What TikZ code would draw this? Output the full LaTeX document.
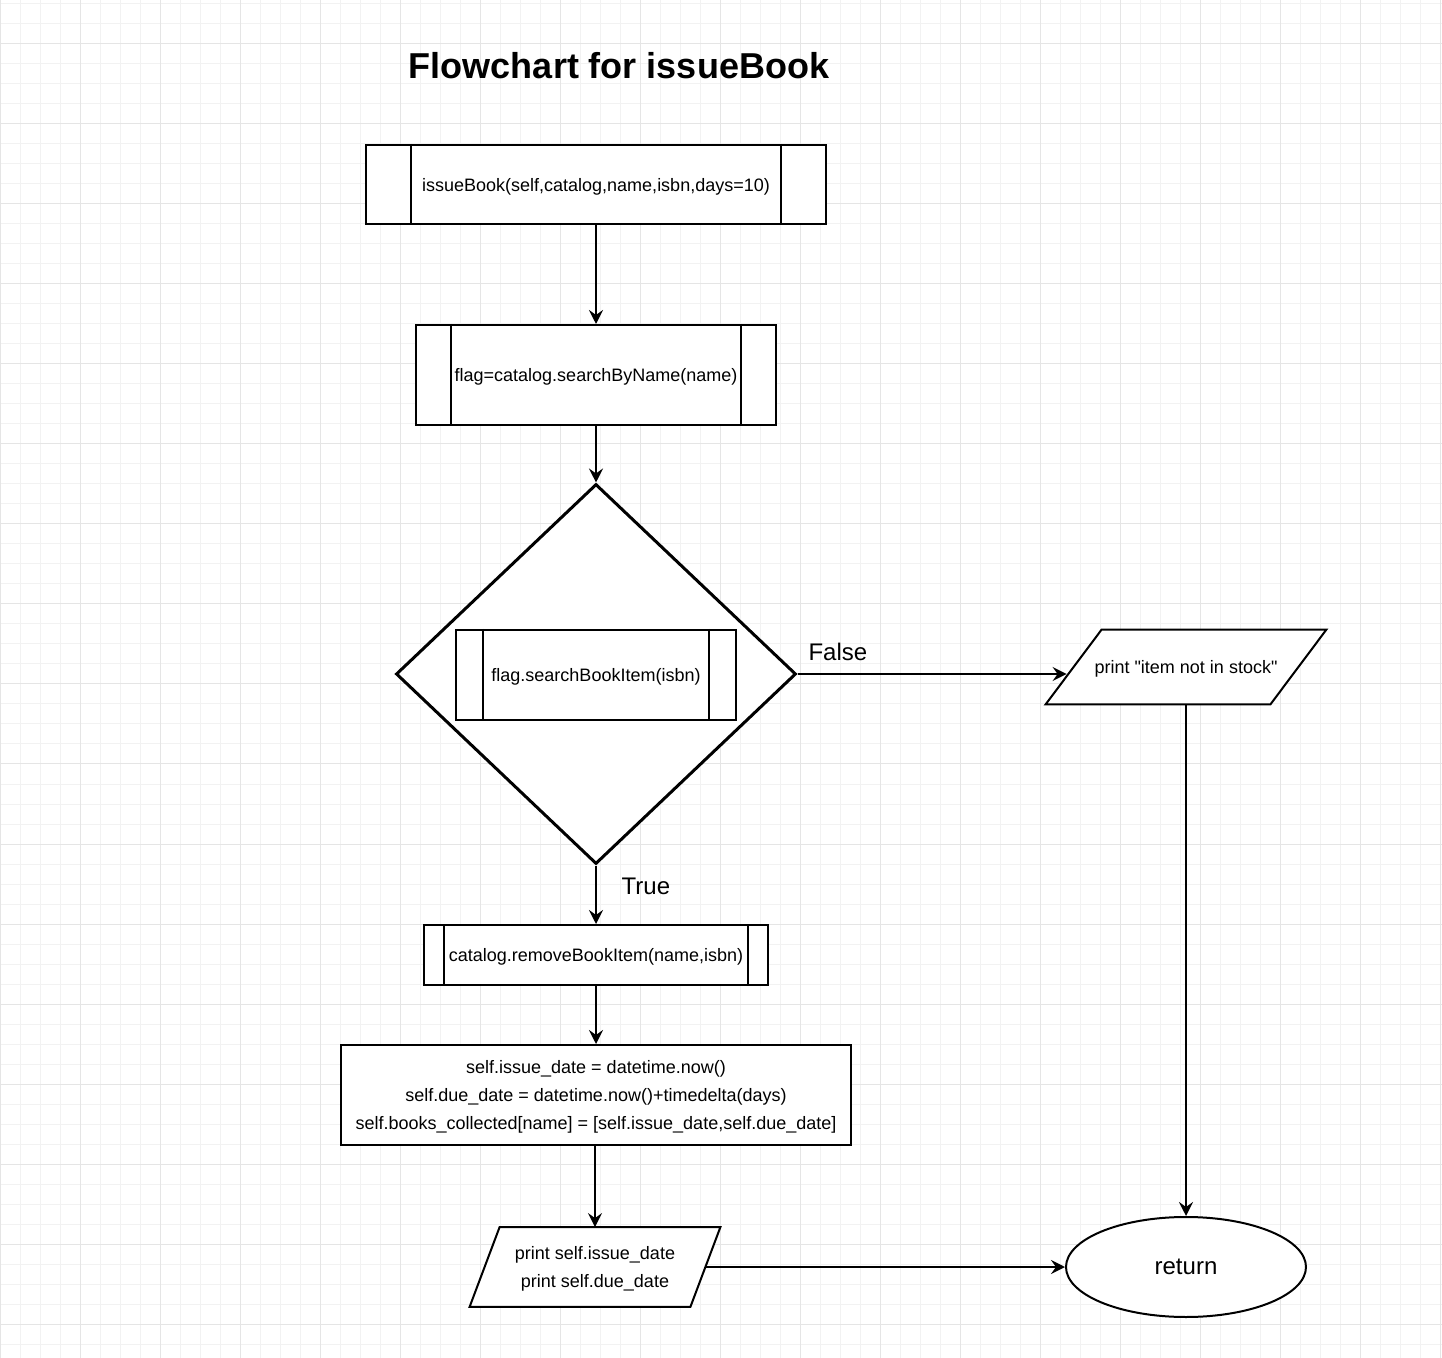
\documentclass[tikz,border=0pt]{standalone}
\usepackage{fontspec}
\setmainfont{Liberation Sans}
\usetikzlibrary{arrows.meta,shapes.geometric,calc}
\tikzset{
  gridminor/.style={line width=0.5pt,black!5},
  gridmajor/.style={line width=0.5pt,black!10},
  box/.style={draw,fill=white,line width=1pt,inner sep=0pt,align=center,text depth=0pt},
  arr/.style={-{Stealth[length=7pt,width=7pt,inset=2.5pt]},line width=1pt},
  lbl/.style={font=\fontsize{12}{14}\selectfont}
}
\begin{document}
\begin{tikzpicture}[x=0.5pt,y=-0.5pt,every node/.style={font=\fontsize{9}{14}\selectfont}]
  \useasboundingbox (0,0) rectangle (1442,1358);
  % background grid
  \fill[white] (0,0) rectangle (1442,1358);
  \foreach \x in {0,20,...,1440} \draw[gridminor] (\x,0) -- (\x,1358);
  \foreach \y in {4,24,...,1344} \draw[gridminor] (0,\y) -- (1442,\y);
  \foreach \x in {0,80,...,1440} \draw[gridmajor] (\x,0) -- (\x,1358);
  \foreach \y in {44,124,...,1324} \draw[gridmajor] (0,\y) -- (1442,\y);

  \node (title) [font=\bfseries\fontsize{18}{22}\selectfont] at (619,66) {Flowchart for issueBook};

  % main column
  \node (b1) [box,minimum width=230pt,minimum height=39.5pt] at (596,184.5) {issueBook(self,catalog,name,isbn,days=10)};
  \node (b2) [box,minimum width=180pt,minimum height=50pt] at (596,375) {flag=catalog.searchByName(name)};
  \node (d) [draw,fill=white,diamond,line width=1.5pt,minimum width=200pt,minimum height=190pt,inner sep=0pt] at (596,674) {};
  \node (b3) [box,minimum width=140pt,minimum height=45pt] at (596,675) {flag.searchBookItem(isbn)};
  \node (b4) [box,minimum width=172pt,minimum height=30pt] at (596,955) {catalog.removeBookItem(name,isbn)};
  \node (b5) [box,minimum width=255pt,minimum height=50pt] at (596,1095)
    {self.issue\_date = datetime.now()\\self.due\_date = datetime.now()+timedelta(days)\\self.books\_collected[name] = [self.issue\_date,self.due\_date]};

  % subroutine side bars
  \foreach \n/\o in {b1/23pt,b2/18pt,b3/14pt,b4/10.5pt} {
    \draw[line width=1pt] ([xshift=\o]\n.north west) -- ([xshift=\o]\n.south west);
    \draw[line width=1pt] ([xshift=-\o]\n.north east) -- ([xshift=-\o]\n.south east);
  }

  % parallelograms
  \node (p1) [minimum width=140pt,minimum height=37pt,inner sep=0pt] at (1186,667) {};
  \draw[line width=1pt,fill=white] ([xshift=28pt]p1.north west) -- (p1.north east) -- ([xshift=-28pt]p1.south east) -- (p1.south west) -- cycle;
  \node [text depth=0pt] at (p1) {print \textquotedbl item not in stock\textquotedbl};
  \node (p2) [minimum width=125pt,minimum height=39.5pt,inner sep=0pt] at (595,1267) {};
  \draw[line width=1pt,fill=white] ([xshift=15pt]p2.north west) -- (p2.north east) -- ([xshift=-15pt]p2.south east) -- (p2.south west) -- cycle;
  \node [align=center,text depth=0pt] at (p2) {print self.issue\_date\\print self.due\_date};

  \node (r) [draw,fill=white,ellipse,line width=1pt,minimum width=120pt,minimum height=50pt,inner sep=0pt,lbl] at (1186,1267) {return};

  % connectors
  \draw[arr] (b1) -- (b2);
  \draw[arr] (b2) -- (d);
  \draw[arr] (d) -- node[lbl,pos=.35,right=9pt] {True} (b4);
  \draw[arr] (b4) -- (b5);
  \draw[arr] (b5.south -| p2.north) -- (p2.north);
  \draw[arr] (d.east) -- node[lbl,pos=.15,above=3pt] {False} ($(d.east -| p1.west)+(21,0)$);
  \draw[arr] (p1.south) -- (r);
  \draw[arr] ($(p2.east)+(-15,0)$) -- (r.west);
\end{tikzpicture}
\end{document}
